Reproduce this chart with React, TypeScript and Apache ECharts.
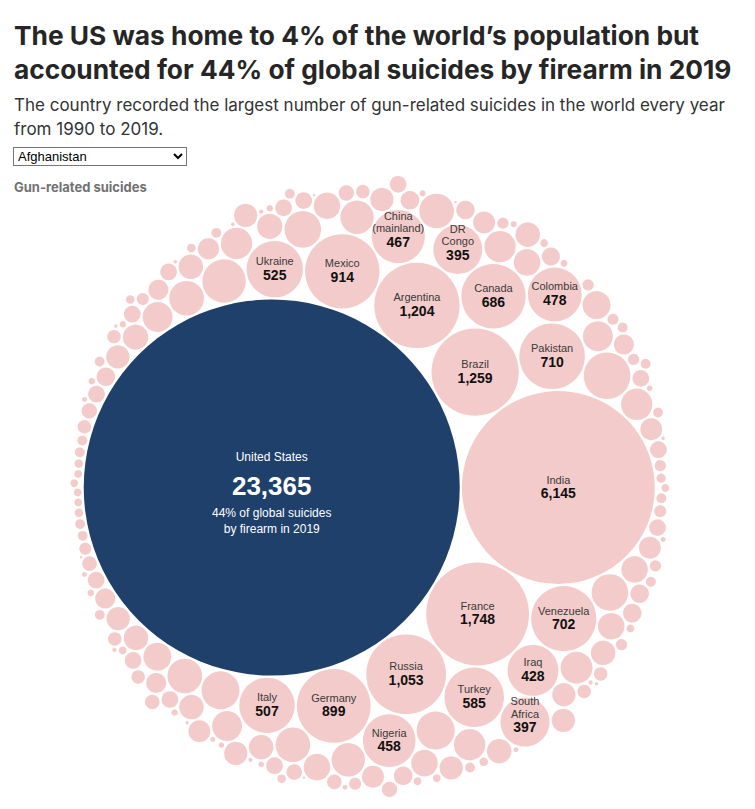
import React, { useEffect, useRef } from "react";
import * as echarts from "echarts";

// ---------- DATA (named countries listed in packing order) ----------
const namedCountries = [
  "United States", "India", "France", "Brazil", "Argentina", "Russia", "Mexico",
  "Pakistan", "Germany", "Venezuela", "Canada", "Turkey", "Ukraine", "Italy",
  "Colombia", "China\n(mainland)", "Nigeria", "Iraq", "South\nAfrica", "DR\nCongo",
];
const namedValues = [
  23365, 6145, 1748, 1259, 1204, 1053, 914, 710, 899, 702, 686, 585, 525, 507,
  478, 467, 458, 428, 397, 395,
];
// Unlabelled countries (values estimated from circle sizes)
const otherValues = [
  359, 311, 238, 238, 221, 221, 198, 198, 198, 198,
  184, 184, 169, 163, 163, 163, 163, 149, 149, 149,
  130, 130, 117, 117, 117, 117, 117, 117, 106, 106,
  100, 100, 100, 100, 100, 100, 100, 90, 90, 90,
  90, 90, 90, 90, 90, 80, 80, 80, 80, 80,
  75, 66, 66, 66, 66, 57, 57, 57, 57, 57,
  57, 54, 46, 46, 46, 46, 46, 46, 46, 46,
  46, 46, 46, 46, 46, 40, 39, 39, 39, 35, 35, 35,
  30, 30, 30, 30, 30, 30, 30, 24, 24, 24, 24, 21,
  21, 21, 21, 21, 21, 20, 16, 16, 16, 16, 16,
  16, 16, 16, 16, 16, 16, 16, 16, 16, 14,
  12, 12, 12, 12, 12, 12, 10, 10, 10, 10,
  10, 10, 10, 10, 10, 10, 8, 7, 7, 7,
  7, 7, 6, 6, 5, 5, 5, 4, 4, 4,
  4, 4, 4, 3, 3, 3, 3, 2, 2, 2,
  2, 2, 2, 1, 1, 1, 1,
];
const usShareText = ["44% of global suicides", "by firearm in 2019"];
const titleLines = [
  "The US was home to 4% of the world\u2019s population but",
  "accounted for 44% of global suicides by firearm in 2019",
];
const subtitleLines = [
  "The country recorded the largest number of gun-related suicides in the world every year",
  "from 1990 to 2019.",
];
const legendLabel = "Gun-related suicides";
const dropdownOptions = ["Afghanistan"];

// ---------- STYLE ----------
const FONT = '"Liberation Sans", Arial, Helvetica, sans-serif';
const HEAD_FONT = 'Inter, "Liberation Sans", Arial, sans-serif';
const PINK = "#f4cbcb";
const NAVY = "#1f406b";
const W = 755;
const H = 809;
const CENTER = [371, 488];
const US_RADIUS_PX = 188;
const PAD = 1.1;

// ---------- circle packing (front-chain, as in d3.packSiblings) ----------
interface Circ { x: number; y: number; r: number; }
interface PNode { _: Circ; next: PNode; previous: PNode; }

function place(b: Circ, a: Circ, c: Circ) {
  const dx = b.x - a.x, dy = b.y - a.y, d2 = dx * dx + dy * dy;
  if (d2) {
    let a2 = a.r + c.r; a2 *= a2;
    let b2 = b.r + c.r; b2 *= b2;
    if (a2 > b2) {
      const x = (d2 + b2 - a2) / (2 * d2);
      const y = Math.sqrt(Math.max(0, b2 / d2 - x * x));
      c.x = b.x - x * dx - y * dy;
      c.y = b.y - x * dy + y * dx;
    } else {
      const x = (d2 + a2 - b2) / (2 * d2);
      const y = Math.sqrt(Math.max(0, a2 / d2 - x * x));
      c.x = a.x + x * dx - y * dy;
      c.y = a.y + x * dy + y * dx;
    }
  } else {
    c.x = a.x + c.r;
    c.y = a.y;
  }
}
function intersects(a: Circ, b: Circ) {
  const dr = a.r + b.r - 1e-6, dx = b.x - a.x, dy = b.y - a.y;
  return dr > 0 && dr * dr > dx * dx + dy * dy;
}
function score(node: PNode) {
  const a = node._, b = node.next._, ab = a.r + b.r;
  const dx = (a.x * b.r + b.x * a.r) / ab, dy = (a.y * b.r + b.y * a.r) / ab;
  return dx * dx + dy * dy;
}
function enclosesNot(a: Circ, b: Circ) {
  const dr = a.r - b.r, dx = b.x - a.x, dy = b.y - a.y;
  return dr < 0 || dr * dr < dx * dx + dy * dy;
}
function enclosesWeak(a: Circ, b: Circ) {
  const dr = a.r - b.r + Math.max(a.r, b.r, 1) * 1e-9, dx = b.x - a.x, dy = b.y - a.y;
  return dr > 0 && dr * dr > dx * dx + dy * dy;
}
function enclosesWeakAll(a: Circ, B: Circ[]) {
  for (const b of B) if (!enclosesWeak(a, b)) return false;
  return true;
}
function basis2(a: Circ, b: Circ): Circ {
  const x21 = b.x - a.x, y21 = b.y - a.y, r21 = b.r - a.r;
  const l = Math.sqrt(x21 * x21 + y21 * y21);
  return { x: (a.x + b.x + (x21 / l) * r21) / 2, y: (a.y + b.y + (y21 / l) * r21) / 2, r: (l + a.r + b.r) / 2 };
}
function basis3(a: Circ, b: Circ, c: Circ): Circ {
  const x1 = a.x, y1 = a.y, r1 = a.r, x2 = b.x, y2 = b.y, r2 = b.r, x3 = c.x, y3 = c.y, r3 = c.r;
  const a2 = x1 - x2, a3 = x1 - x3, b2 = y1 - y2, b3 = y1 - y3, c2 = r2 - r1, c3 = r3 - r1;
  const d1 = x1 * x1 + y1 * y1 - r1 * r1;
  const d2 = d1 - x2 * x2 - y2 * y2 + r2 * r2;
  const d3 = d1 - x3 * x3 - y3 * y3 + r3 * r3;
  const ab = a3 * b2 - a2 * b3;
  const xa = (b2 * d3 - b3 * d2) / (ab * 2) - x1, xb = (b3 * c2 - b2 * c3) / ab;
  const ya = (a3 * d2 - a2 * d3) / (ab * 2) - y1, yb = (a2 * c3 - a3 * c2) / ab;
  const A = xb * xb + yb * yb - 1, Bq = 2 * (r1 + xa * xb + ya * yb), C = xa * xa + ya * ya - r1 * r1;
  const r = -(Math.abs(A) > 1e-6 ? (Bq + Math.sqrt(Bq * Bq - 4 * A * C)) / (2 * A) : C / Bq);
  return { x: x1 + xa + xb * r, y: y1 + ya + yb * r, r };
}
function encloseBasis(B: Circ[]): Circ {
  if (B.length === 1) return { x: B[0].x, y: B[0].y, r: B[0].r };
  if (B.length === 2) return basis2(B[0], B[1]);
  return basis3(B[0], B[1], B[2]);
}
function extendBasis(B: Circ[], p: Circ): Circ[] {
  if (enclosesWeakAll(p, B)) return [p];
  for (let i = 0; i < B.length; ++i) {
    if (enclosesNot(p, B[i]) && enclosesWeakAll(basis2(B[i], p), B)) return [B[i], p];
  }
  for (let i = 0; i < B.length - 1; ++i) {
    for (let j = i + 1; j < B.length; ++j) {
      if (enclosesNot(basis2(B[i], B[j]), p) && enclosesNot(basis2(B[i], p), B[j]) &&
          enclosesNot(basis2(B[j], p), B[i]) && enclosesWeakAll(basis3(B[i], B[j], p), B)) {
        return [B[i], B[j], p];
      }
    }
  }
  return [p];
}
function enclose(circles: Circ[]): Circ {
  let i = 0, B: Circ[] = [], e: Circ | null = null, guard = 0;
  while (i < circles.length && guard < 100000) {
    guard++;
    const p = circles[i];
    if (e && enclosesWeak(e, p)) ++i;
    else { B = extendBasis(B, p); e = encloseBasis(B); i = 0; }
  }
  return e as Circ;
}
function mk(c: Circ): PNode { return { _: c, next: null as any, previous: null as any }; }

function packSiblings(circles: Circ[]) {
  const n = circles.length;
  if (n < 3) return;
  const c0 = circles[0], c1 = circles[1];
  c0.x = -c1.r; c0.y = 0; c1.x = c0.r; c1.y = 0;
  place(c1, c0, circles[2]);
  let a = mk(c0), b = mk(c1), c = mk(circles[2]);
  a.next = c.previous = b;
  b.next = a.previous = c;
  c.next = b.previous = a;
  pack: for (let i = 3; i < n; ++i) {
    place(a._, b._, circles[i]);
    c = mk(circles[i]);
    let j = b.next, k = a.previous, sj = b._.r, sk = a._.r;
    do {
      if (sj <= sk) {
        if (intersects(j._, c._)) { b = j; a.next = b; b.previous = a; --i; continue pack; }
        sj += j._.r; j = j.next;
      } else {
        if (intersects(k._, c._)) { a = k; a.next = b; b.previous = a; --i; continue pack; }
        sk += k._.r; k = k.previous;
      }
    } while (j !== k.next);
    c.previous = a; c.next = b; a.next = b.previous = b = c;
    let aa = score(a);
    while ((c = c.next) !== b) {
      const ca = score(c);
      if (ca < aa) { a = c; aa = ca; }
    }
    b = a.next;
  }
  const chain: Circ[] = [b._];
  let cc = b;
  while ((cc = cc.next) !== b) chain.push(cc._);
  const e = enclose(chain);
  for (const ci of circles) { ci.x -= e.x; ci.y -= e.y; }
}

// ---------- build items ----------
interface Item { name: string | null; value: number; x: number; y: number; r: number; }
function buildItems(): Item[] {
  const raw = [
    ...namedValues.map((v, i) => ({ name: namedCountries[i] as string | null, value: v })),
    ...otherValues.map((v) => ({ name: null as string | null, value: v })),
  ];
  const k = US_RADIUS_PX / Math.sqrt(namedValues[0]);
  const circles: Circ[] = raw.map((d) => ({ x: 0, y: 0, r: k * Math.sqrt(d.value) + PAD }));
  packSiblings(circles);
  return raw.map((d, i) => ({
    name: d.name, value: d.value,
    x: CENTER[0] + circles[i].x, y: CENTER[1] + circles[i].y, r: circles[i].r - PAD,
  }));
}

export default function App() {
  const ref = useRef<HTMLDivElement>(null);
  useEffect(() => {
    if (!ref.current) return;
    const chart = echarts.init(ref.current, undefined, { renderer: "svg" });
    const items = buildItems();
    const fmt = (v: number) => v.toLocaleString("en-US");

    const graphic: any[] = [];
    titleLines.forEach((t, i) => {
      graphic.push({
        type: "text", left: 14, top: 22 + i * 34.5, silent: true,
        style: { text: t, font: `bold 26.3px ${HEAD_FONT}`, fill: "#262626" },
      });
    });
    subtitleLines.forEach((t, i) => {
      graphic.push({
        type: "text", left: 14, top: 96.5 + i * 23.5, silent: true,
        style: { text: t, font: `17px ${HEAD_FONT}`, fill: "#333333" },
      });
    });
    graphic.push({
      type: "text", left: 14, top: 180, silent: true,
      style: { text: legendLabel, font: `bold 13px ${HEAD_FONT}`, fill: "#727272" },
    });

    chart.setOption({
      animation: false,
      grid: { left: 0, right: 0, top: 0, bottom: 0, containLabel: false },
      xAxis: { type: "value", min: 0, max: W, show: false },
      yAxis: { type: "value", min: 0, max: H, inverse: true, show: false },
      graphic,
      series: [
        {
          type: "custom",
          coordinateSystem: "cartesian2d",
          silent: true,
          clip: false,
          data: items.map((d) => [d.x, d.y, d.r, d.value]),
          renderItem: (params: any, api: any) => {
            const d = items[params.dataIndex];
            const p = api.coord([api.value(0), api.value(1)]);
            const s = api.size([api.value(2), api.value(2)], [api.value(0), api.value(1)]);
            const r = s[0];
            const isUS = params.dataIndex === 0;
            const children: any[] = [
              { type: "circle", shape: { cx: p[0], cy: p[1], r }, style: { fill: isUS ? NAVY : PINK } },
            ];
            const txt = (text: string, y: number, font: string, fill: string) => ({
              type: "text",
              style: { text, x: p[0], y, font, fill, align: "center", verticalAlign: "middle" },
            });
            if (isUS) {
              children.push(txt(d.name as string, p[1] - 31, `12px ${FONT}`, "#ffffff"));
              children.push(txt(fmt(d.value), p[1] - 2, `bold 26px ${FONT}`, "#ffffff"));
              children.push(txt(usShareText[0], p[1] + 25, `12px ${FONT}`, "#ffffff"));
              children.push(txt(usShareText[1], p[1] + 41, `12px ${FONT}`, "#ffffff"));
            } else if (d.name) {
              const lines = d.name.split("\n");
              lines.forEach((ln, li) => {
                const y = p[1] - 8 - (lines.length - 1 - li) * 12.5;
                children.push(txt(ln, y, `11px ${FONT}`, "#3a3a3a"));
              });
              children.push(txt(fmt(d.value), p[1] + 5.5, `bold 14px ${FONT}`, "#111111"));
            }
            return { type: "group", children };
          },
        },
      ],
    });
    return () => chart.dispose();
  }, []);

  return (
    <div style={{ position: "absolute", left: 0, top: 0, width: W, height: H, background: "#ffffff" }}>
      <div ref={ref} style={{ position: "absolute", left: 0, top: 0, width: W, height: H }} />
      <select
        defaultValue={dropdownOptions[0]}
        style={{
          position: "absolute", left: 13, top: 147, width: 174, height: 19,
          fontSize: 13, fontFamily: "Arial, 'Liberation Sans', sans-serif", padding: 0,
          border: "1px solid #767676", borderRadius: 0, background: "#fff", color: "#000",
        }}
      >
        {dropdownOptions.map((o) => (
          <option key={o} value={o}>{o}</option>
        ))}
      </select>
    </div>
  );
}
